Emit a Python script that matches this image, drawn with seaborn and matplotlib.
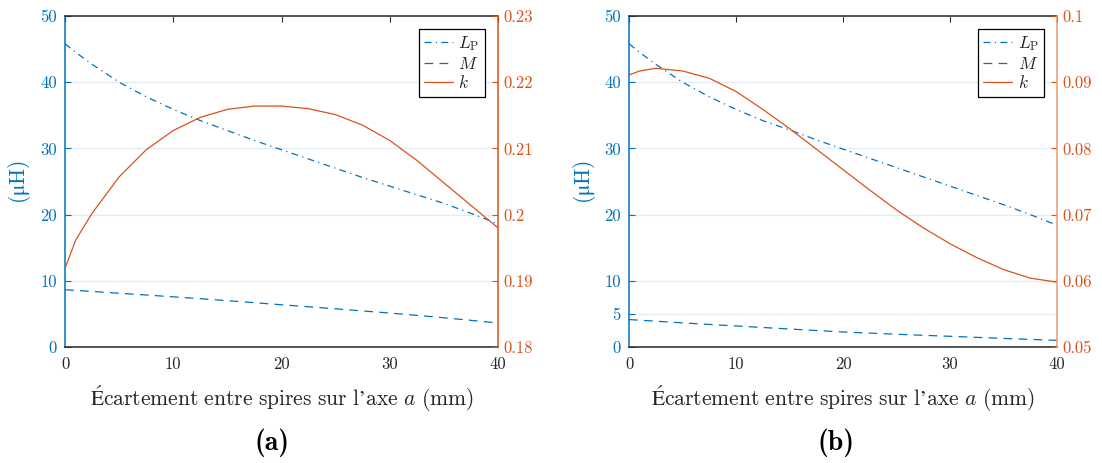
import numpy as np
import pandas as pd
import matplotlib
matplotlib.use("Agg")
import matplotlib.pyplot as plt
import seaborn as sns
from matplotlib.ticker import FuncFormatter

# data (x in mm)
gap_mm = [0, 1, 2.5, 5, 7.5, 10, 12.5, 15, 17.5, 20, 22.5, 25, 27.5, 30, 32.5, 35, 37.5, 40]

lp_a = [45.8, 44.5, 42.7, 40.0, 37.8, 35.9, 34.2, 32.7, 31.2, 29.8, 28.4, 27.0, 25.6, 24.3, 23.0, 21.7, 20.2, 18.6]
m_a = [8.65, 8.55, 8.4, 8.12, 7.86, 7.58, 7.3, 7.0, 6.7, 6.38, 6.08, 5.77, 5.45, 5.13, 4.78, 4.42, 4.03, 3.62]
k_a = [0.1919, 0.1962, 0.2002, 0.2057, 0.2098, 0.2127, 0.2147, 0.2159, 0.2164, 0.2164,
       0.2160, 0.2151, 0.2135, 0.2112, 0.2082, 0.2048, 0.2014, 0.1980]

lp_b = [45.8, 44.5, 42.7, 40.0, 37.8, 35.9, 34.2, 32.8, 31.3, 29.9, 28.5, 27.1, 25.7, 24.3, 22.9, 21.5, 20.0, 18.4]
m_b = [4.15, 4.05, 3.9, 3.65, 3.41, 3.18, 2.95, 2.72, 2.49, 2.27, 2.1, 1.93, 1.77, 1.62, 1.46, 1.3, 1.15, 1.0]
k_b = [0.0911, 0.0917, 0.0921, 0.0917, 0.0906, 0.0886, 0.0859, 0.0830, 0.0799, 0.0768,
       0.0737, 0.0707, 0.0680, 0.0656, 0.0635, 0.0617, 0.0604, 0.0598]

left_ticks_a = [0, 10, 20, 30, 40, 50]
left_ticks_b = [0, 5, 10, 20, 30, 40, 50]
right_ticks_a = [0.18, 0.19, 0.2, 0.21, 0.22, 0.23]
right_ticks_b = [0.05, 0.06, 0.07, 0.08, 0.09, 0.1]
x_ticks = [0, 10, 20, 30, 40]

BLUE = "#0072BD"
ORANGE = "#D95319"
DARK = "#262626"

XLABEL = r"$\mathrm{Écartement\ entre\ spires\ sur\ l’axe}\ a\ \mathrm{(mm)}$"
YLABEL = r"$\mathrm{(μH)}$"

sns.set_style("white")
plt.rcParams["font.family"] = ["cmr10", "DejaVu Serif"]
plt.rcParams["mathtext.fontset"] = "cm"
plt.rcParams["axes.formatter.use_mathtext"] = True
plt.rcParams["axes.unicode_minus"] = False

fig = plt.figure(figsize=(11.02, 4.63), dpi=100)

fmt = FuncFormatter(lambda v, p: f"{v:g}")


def panel(rect, lp, m, k, lticks, rticks, rlim, rspine_color, letter, letter_x):
    df = pd.DataFrame({"x": gap_mm, "lp": lp, "m": m, "k": k})
    ax = fig.add_axes(rect)
    ax2 = ax.twinx()

    sns.lineplot(data=df, x="x", y="lp", ax=ax, color=BLUE, lw=0.9,
                 linestyle=(0, (5.5, 3.5, 1, 3.5)), label=r"$L_\mathrm{P}$", legend=False)
    sns.lineplot(data=df, x="x", y="m", ax=ax, color=BLUE, lw=0.9,
                 linestyle=(0, (7, 5)), label=r"$M$", legend=False)
    sns.lineplot(data=df, x="x", y="k", ax=ax2, color=ORANGE, lw=0.9,
                 label=r"$k$", legend=False)

    ax.set_xlim(0, 40)
    ax.set_ylim(0, 50)
    ax2.set_ylim(*rlim)
    ax.set_xticks(x_ticks)
    ax.set_yticks(lticks)
    ax2.set_yticks(rticks)
    ax.yaxis.set_major_formatter(fmt)
    ax2.yaxis.set_major_formatter(fmt)
    ax.xaxis.set_major_formatter(fmt)

    ax.yaxis.grid(True, color="#E1ECF6", lw=1)
    ax.set_axisbelow(True)

    ax.tick_params(axis="x", direction="in", top=True, length=4, width=0.8,
                   colors=DARK, labelsize=12, pad=7)
    ax.tick_params(axis="y", direction="in", length=4, width=0.8, colors=BLUE,
                   labelsize=12, pad=6)
    ax2.tick_params(axis="y", direction="in", length=4, width=0.8, colors=ORANGE,
                    labelsize=12, pad=4)

    for s in ["top", "bottom"]:
        ax.spines[s].set_color(DARK)
        ax.spines[s].set_linewidth(1.1)
    ax.spines["left"].set_color(BLUE)
    ax.spines["left"].set_linewidth(1.1)
    ax.spines["right"].set_visible(False)
    for s in ["top", "bottom", "left"]:
        ax2.spines[s].set_visible(False)
    ax2.spines["right"].set_color(rspine_color)
    ax2.spines["right"].set_linewidth(1.1)

    ax.set_xlabel(XLABEL, fontsize=15.5, color=DARK)
    ax.xaxis.label.set_va("center")
    ax.xaxis.set_label_coords(0.5, -0.155)
    ax.set_ylabel(YLABEL, fontsize=15.5, color=BLUE)
    ax2.set_ylabel("")
    ax.yaxis.label.set_va("center")
    ax.yaxis.set_label_coords(-0.104, 0.5)

    handles = [l for l in ax.get_lines() if l.get_label().startswith("$")]
    handles += [l for l in ax2.get_lines() if l.get_label().startswith("$")]
    leg = ax2.legend(handles=handles, labels=[h.get_label() for h in handles],
                     loc="upper right", bbox_to_anchor=(0.97, 0.961), fontsize=12.5,
                     frameon=True, fancybox=False, framealpha=1, edgecolor="black",
                     handlelength=1.7, handletextpad=0.3, labelspacing=0.15,
                     borderpad=0.3, borderaxespad=0)
    leg.get_frame().set_linewidth(0.9)

    fig.text(letter_x, 0.043, letter, ha="center", va="center", fontsize=20,
             family=["cmb10", "DejaVu Serif"], color="black")
    return ax, ax2


panel([0.0590, 0.2505, 0.3929, 0.7149], lp_a, m_a, k_a, left_ticks_a, right_ticks_a,
      (0.18, 0.23), ORANGE, "(a)", 0.247)
panel([0.5708, 0.2505, 0.3884, 0.7149], lp_b, m_b, k_b, left_ticks_b, right_ticks_b,
      (0.05, 0.1), "#E59B78", "(b)", 0.759)

fig.savefig("out.png", dpi=100)
